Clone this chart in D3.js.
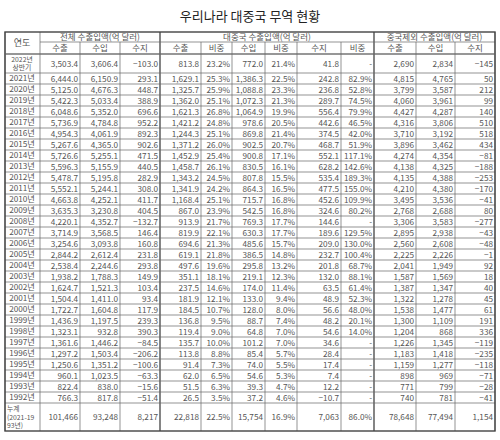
<!DOCTYPE html><html><head><meta charset="utf-8">
<script src="https://cdn.jsdelivr.net/npm/d3@7"></script>
<style>body{margin:0;background:#fff}</style></head><body><svg id="c" width="500" height="440"></svg>
<script>
const years=["2022년|상반기"].concat(d3.range(2021,1991,-1).map(y=>y+"년"),["누계|(2021-19|93년)"]);
const tE=[3503.4,6444.0,5125.0,5422.3,6048.6,5736.9,4954.3,5267.6,5726.6,5596.3,5478.7,5552.1,4663.8,3635.3,4220.1,3714.9,3254.6,2844.2,2538.4,1938.2,1624.7,1504.4,1722.7,1436.9,1323.1,1361.6,1297.2,1250.6,960.1,822.4,766.3,101466];
const tI=[3606.4,6150.9,4676.3,5033.4,5352.0,4784.8,4061.9,4365.0,5255.1,5155.9,5195.8,5244.1,4252.1,3230.8,4352.7,3568.5,3093.8,2612.4,2244.6,1788.3,1521.3,1411.0,1604.8,1197.5,932.8,1446.2,1503.4,1351.2,1023.5,838.0,817.8,93248];
const tB=[-103.0,293.1,448.7,388.9,696.6,952.2,892.3,902.6,471.5,440.5,282.9,308.0,411.7,404.5,-132.7,146.4,160.8,231.8,293.8,149.9,103.4,93.4,117.9,239.3,390.3,-84.5,-206.2,-100.6,-63.3,-15.6,-51.4,8217];
const cE=[813.8,1629.1,1325.7,1362.0,1621.3,1421.2,1244.3,1371.2,1452.9,1458.7,1343.2,1341.9,1168.4,867.0,913.9,819.9,694.6,619.1,497.6,351.1,237.5,181.9,184.5,136.8,119.4,135.7,113.8,91.4,62.0,51.5,26.5,22818];
const cES=[23.2,25.3,25.9,25.1,26.8,24.8,25.1,26.0,25.4,26.1,24.5,24.2,25.1,23.9,21.7,22.1,21.3,21.8,19.6,18.1,14.6,12.1,10.7,9.5,9.0,10.0,8.8,7.3,6.5,6.3,3.5,22.5];
const cI=[772.0,1386.3,1088.8,1072.3,1064.9,978.6,869.8,902.5,900.8,830.5,807.8,864.3,715.7,542.5,769.3,630.3,485.6,386.5,295.8,219.1,174.0,133.0,128.0,88.7,64.8,101.2,85.4,74.0,54.6,39.3,37.2,15754];
const cIS=[21.4,22.5,23.3,21.3,19.9,20.5,21.4,20.7,17.1,16.1,15.5,16.5,16.8,16.8,17.7,17.7,15.7,14.8,13.2,12.3,11.4,9.4,8.0,7.4,7.0,7.0,5.7,5.5,5.3,4.7,4.6,16.9];
const cB=[41.8,242.8,236.8,289.7,556.4,442.6,374.5,468.7,552.1,628.2,535.4,477.5,452.6,324.6,144.6,189.6,209.0,232.7,201.8,132.0,63.5,48.9,56.6,48.2,54.6,34.6,28.4,17.4,7.4,12.2,-10.7,7063];
const cBS=[null,82.9,52.8,74.5,79.9,46.5,42.0,51.9,117.1,142.6,189.3,155.0,109.9,80.2,null,129.5,130.0,100.4,68.7,88.1,61.4,52.3,48.0,20.1,14.0,null,null,null,null,null,null,86.0];
const eE=[2690,4815,3799,4060,4427,4316,3710,3896,4274,4138,4135,4210,3495,2768,3306,2895,2560,2225,2041,1587,1387,1322,1538,1300,1204,1226,1183,1159,898,771,740,78648];
const eI=[2834,4765,3587,3961,4287,3806,3192,3462,4354,4325,4388,4380,3536,2688,3583,2938,2608,2226,1949,1569,1347,1278,1477,1109,868,1345,1418,1277,969,799,781,77494];
const eB=[-145,50,212,99,140,510,518,434,-81,-188,-253,-170,-41,80,-277,-43,-48,-1,92,18,40,45,61,191,336,-119,-235,-118,-71,-28,-41,1154];
const groups=["전체 수출입액(억 달러)","대중국 수출입액(억 달러)","중국제외 수출입액(억 달러)"];
const subs=["수출","수입","수지","수출","비중","수입","비중","수지","비중","수출","수입","수지"];

const svg=d3.select("#c"),F="'Noto Sans CJK KR',sans-serif",col="#555";
svg.append("text").attr("x",250).attr("y",21).attr("text-anchor","middle").attr("font-family",F).attr("font-size",13).attr("fill","#222").text("우리나라 대중국 무역 현황");
const xs=[5,40,80,120,160,201,232,265,297,341,374,416,455,495];
const n=years.length;
const yb=[32,42,54,73];for(let i=1;i<n-1;i++)yb.push(73+11*i);yb.push(yb[yb.length-1]+28);
const f1=d3.format(",.1f"),f0=d3.format(",d"),fp=v=>v==null?"-":v.toFixed(1)+"%";
const cols=[[tE,f1],[tI,f1],[tB,f1],[cE,f1],[cES,fp],[cI,f1],[cIS,fp],[cB,f1],[cBS,fp],[eE,f0],[eI,f0],[eB,f0]];
const g=svg.append("g").attr("font-family",F).attr("font-size",8.2).attr("fill",col);
const L=(x1,y1,x2,y2,w)=>svg.append("line").attr("x1",x1).attr("y1",y1).attr("x2",x2).attr("y2",y2).attr("stroke","#666").attr("stroke-width",w||0.7);
for(let r=0;r<n;r++){
  const y0=yb[2+r],y1=yb[3+r],ym=(y0+y1)/2;
  const lines=years[r].split("|");
  const last=r==n-1;
  const sp=last?8.6:8.5;
  lines.forEach((t,k)=>g.append("text").attr("x",last?7:22).attr("y",ym+(k-(lines.length-1)/2)*sp+2.5).attr("text-anchor",last?"start":"middle").attr("font-size",lines.length>1?6.8:8.2).text(t));
  cols.forEach(([arr,fm],c)=>{const v=arr[r];g.append("text").attr("x",xs[c+2]-2).attr("y",ym+3).attr("text-anchor","end").text(last&&fm===f1?f0(v):fm(v));});
}
g.append("text").attr("x",22).attr("y",46).attr("text-anchor","middle").attr("font-size",9).text("연도");
[[1,4],[4,10],[10,13]].forEach(([a,b],i)=>g.append("text").attr("x",(xs[a]+xs[b])/2).attr("y",40).attr("text-anchor","middle").attr("font-size",8.5).text(groups[i]));
subs.forEach((s,i)=>g.append("text").attr("x",(xs[i+1]+xs[i+2])/2).attr("y",51).attr("text-anchor","middle").attr("font-size",8.5).text(s));
L(xs[1],42,495,42);
yb.slice(2,-1).forEach(y=>L(5,y,495,y));
xs.forEach((x,i)=>{const top=(i===2||i===3||i===5||i===6||i===7||i===8||i===9||i===11||i===12)?42:32;L(x,top,x,yb[yb.length-1],(i==4||i==10)?1.6:0.7);});
svg.append("rect").attr("x",5).attr("y",32).attr("width",490).attr("height",yb[yb.length-1]-32).attr("fill","none").attr("stroke","#444").attr("stroke-width",1.4);
L(5,54,495,54,1.2);
</script></body></html>
